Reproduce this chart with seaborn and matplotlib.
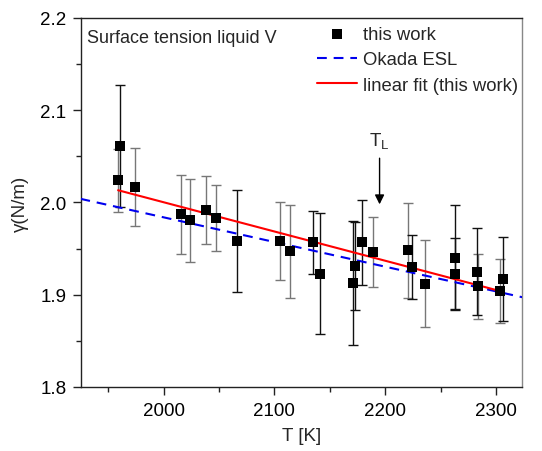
import matplotlib
matplotlib.use("Agg")
import matplotlib.pyplot as plt
import seaborn as sns
import numpy as np
import pandas as pd
from matplotlib.ticker import MultipleLocator

# ---- data ----
T_data = [1961, 1959, 1974, 2016, 2024, 2038, 2047, 2066, 2105, 2114,
          2135, 2141, 2171, 2173, 2179, 2189, 2221, 2224, 2236, 2263,
          2263, 2283, 2284, 2306, 2304]
gamma_data = [2.0615, 2.024, 2.017, 1.987, 1.981, 1.992, 1.983, 1.958, 1.958, 1.947,
              1.957, 1.923, 1.913, 1.931, 1.957, 1.946, 1.948, 1.930, 1.912, 1.940,
              1.923, 1.925, 1.909, 1.917, 1.904]
gamma_err = [0.066, 0.034, 0.042, 0.043, 0.045, 0.037, 0.036, 0.055, 0.042, 0.050,
             0.034, 0.066, 0.067, 0.048, 0.046, 0.038, 0.051, 0.035, 0.047, 0.057,
             0.038, 0.047, 0.035, 0.046, 0.035]
err_dark = [1, 0, 0, 0, 0, 0, 0, 1, 0, 0,
            1, 1, 1, 1, 1, 0, 0, 1, 0, 1,
            1, 1, 0, 1, 0]

okada_T = [1925, 2325]
okada_gamma = [2.004, 1.897]
fit_T = [1959, 2305]
fit_gamma = [2.0133, 1.9036]

T_liquidus = 2195
arrow_gamma = [2.048, 1.998]

df = pd.DataFrame({"T": T_data, "gamma": gamma_data, "err": gamma_err, "dark": err_dark})
df_ok = pd.DataFrame({"T": okada_T, "gamma": okada_gamma})
df_fit = pd.DataFrame({"T": fit_T, "gamma": fit_gamma})

sns.set_theme(style="ticks")
plt.rcParams["font.family"] = ["Liberation Sans", "DejaVu Sans"]

fig = plt.figure(figsize=(5.42, 4.52), dpi=100)
ax = fig.add_axes([0.1494, 0.1416, 0.8136, 0.8164])

# error bars
for dark, col in [(0, "#777777"), (1, "#111111")]:
    sub = df[df["dark"] == dark]
    ax.errorbar(sub["T"], sub["gamma"], yerr=sub["err"], fmt="none",
                ecolor=col, elinewidth=1.0, capsize=3.3, capthick=1.0, zorder=2)

sns.lineplot(data=df_ok, x="T", y="gamma", ax=ax, color="#0000ee", lw=1.5,
             linestyle=(0, (4.7, 3.3)), label="Okada ESL", zorder=3)
sns.lineplot(data=df_fit, x="T", y="gamma", ax=ax, color="#ff0000", lw=1.5,
             label="linear fit (this work)", zorder=4)
sns.scatterplot(data=df, x="T", y="gamma", ax=ax, marker="s", s=60, color="black",
                edgecolor="black", linewidth=0, label="this work", zorder=5)

ax.set_xlim(1925.5, 2323.5)
ax.set_ylim(1.8, 2.2)
ax.xaxis.set_major_locator(MultipleLocator(100))
ax.xaxis.set_minor_locator(MultipleLocator(50))
ax.yaxis.set_major_locator(MultipleLocator(0.1))
ax.yaxis.set_minor_locator(MultipleLocator(0.05))
ax.yaxis.set_major_formatter(matplotlib.ticker.FormatStrFormatter("%.1f"))
ax.tick_params(which="major", direction="out", length=6, width=1, labelsize=13.5,
               pad=4.5, colors="#222222", labelcolor="black", top=False, right=False)
ax.tick_params(which="minor", direction="out", length=3.5, width=1, colors="#222222",
               top=False, right=False)
for s in ["left", "bottom", "top"]:
    ax.spines[s].set_color("#222222")
    ax.spines[s].set_linewidth(1.0)
ax.spines["right"].set_color("#888888")
ax.spines["right"].set_linewidth(1.0)

ax.set_xlabel("T [K]", fontsize=13.5, labelpad=6)
ax.set_ylabel("γ(N/m)", fontsize=13.5, labelpad=8)

ax.text(0.013, 0.948, "Surface tension liquid V", transform=ax.transAxes,
        fontsize=13, ha="left", va="center")

ax.annotate("", xy=(T_liquidus, arrow_gamma[1]), xytext=(T_liquidus, arrow_gamma[0]),
            arrowprops=dict(arrowstyle="-|>", color="black", lw=1.0,
                            mutation_scale=14, shrinkA=0, shrinkB=0))
ax.text(T_liquidus, 2.056, r"T$_\mathregular{L}$", fontsize=13.5, ha="center", va="bottom")

handles, labels = ax.get_legend_handles_labels()
order = [labels.index("this work"), labels.index("Okada ESL"), labels.index("linear fit (this work)")]
ax.legend([handles[i] for i in order], [labels[i] for i in order],
          loc="upper right", bbox_to_anchor=(1.009, 1.0), frameon=False,
          fontsize=13.3, handlelength=2.2, handletextpad=0.3, labelspacing=0.46,
          borderaxespad=0.0, borderpad=0.42)

fig.savefig("out.png", dpi=100)
